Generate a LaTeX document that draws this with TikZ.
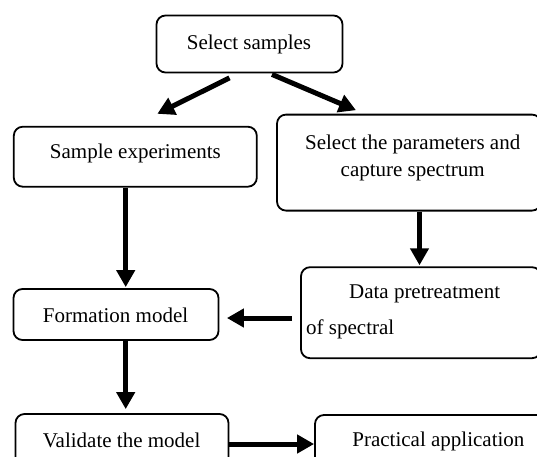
\documentclass[tikz,border=0pt]{standalone}
\usepackage{fontspec}
\setmainfont{Liberation Serif}
\usetikzlibrary{arrows.meta,calc}
\begin{document}
\begin{tikzpicture}[x=1pt,y=-1pt,
  box/.style={draw=black,line width=1.8pt,rounded corners=9pt,inner sep=0pt},
  lbl/.style={inner sep=0pt,font=\fontsize{21}{27}\selectfont,align=center},
  flow/.style={line width=5pt,-{Triangle[length=17pt,width=18pt]}}]
\useasboundingbox (0,0) rectangle (537,456);
\fill[white] (0,0) rectangle (537,456);
% boxes
\node[box,minimum width=186pt,minimum height=57pt] (ss) at (249.5,44) {};
\node[box,minimum width=243pt,minimum height=60pt] (se) at (135.3,156.7) {};
\node[box,minimum width=264pt,minimum height=96pt] (sp) at (409,162.6) {};
\node[box,minimum width=240pt,minimum height=91pt] (dp) at (421,312.7) {};
\node[box,minimum width=205pt,minimum height=51pt] (fm) at (116,314.5) {};
\node[box,minimum width=213pt,minimum height=53pt] (vm) at (122,440.5) {};
\node[box,minimum width=246pt,minimum height=52pt] (pa) at (438,441) {};
% texts
\node[lbl] (tss) at (249,44.5) {Select samples};
\node[lbl] (tse) at (135.4,153) {Sample experiments};
\node[lbl] (tsp) at (412.7,157.5) {Select the parameters and\\capture spectrum};
\node[lbl] (tdp1) at (424.6,294) {Data pretreatment};
\node[lbl,anchor=west] (tdp2) at (306,329) {of spectral};
\node[lbl] (tfm) at (115.6,315.6) {Formation model};
\node[lbl] (tvm) at (121.6,440.6) {Validate the model};
\node[lbl] (tpa) at (438.4,441) {Practical application};
% connectors
\draw[flow] ($(ss.south)+(-20,4.5)$) -- ($(se.north)+(22,-12)$);
\draw[flow] ($(ss.south)+(22.5,1)$) -- ($(sp.north)+(-53,-3.5)$);
\draw[flow] (se.south -| 125.7,0) -- ($(fm.north -| 125.7,0)+(0,-1)$);
\draw[flow] (sp.south -| 419.5,0) -- ($(dp.north -| 419.5,0)+(0,-1)$);
\draw[flow] ($(dp.west |- 0,318)+(-8,0)$) -- ($(fm.east |- 0,318)+(7.5,0)$);
\draw[flow] (fm.south -| 125.7,0) -- ($(vm.north -| 125.7,0)+(0,-4)$);
\draw[flow] (vm.east |- 0,444) -- (pa.west |- 0,444);
\end{tikzpicture}
\end{document}
